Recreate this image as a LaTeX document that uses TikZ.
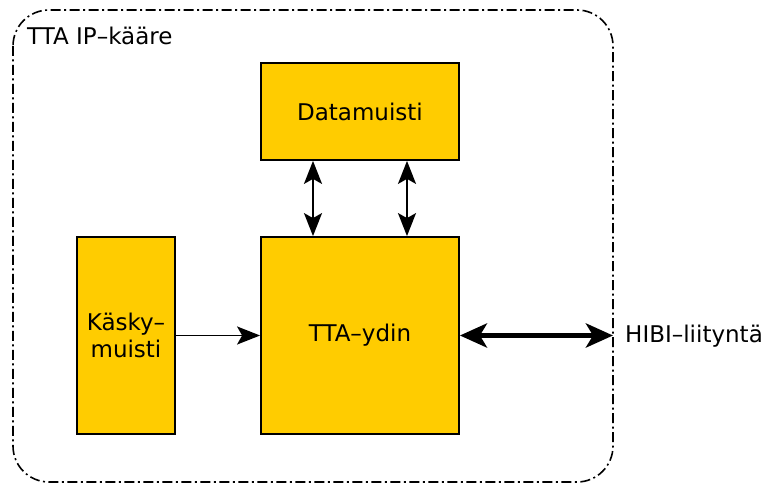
\documentclass[tikz,border=0pt]{standalone}
\usepackage{fontspec}
\setmainfont{DejaVu Sans}
\usetikzlibrary{arrows.meta}
\definecolor{blockfill}{RGB}{255,204,0}
\begin{document}
\begin{tikzpicture}[x=1pt,y=-1pt,
  txt/.style={font=\fontsize{23}{27}\selectfont},
  block/.style={txt,draw=black,line width=1.8pt,fill=blockfill,inner sep=0pt,align=center},
  link/.style={line width=1.8pt,-{Stealth[length=23pt,width=18pt,inset=5pt]}},
  dlink/.style={line width=1.8pt,{Stealth[length=23pt,width=18pt,inset=5pt]}-{Stealth[length=23pt,width=18pt,inset=5pt]}},
  bus/.style={line width=5.5pt,{Stealth[length=27pt,width=24pt,inset=7pt]}-{Stealth[length=27pt,width=24pt,inset=7pt]}},
  lbl/.style={txt,inner sep=0pt}]
\useasboundingbox (0,0) rectangle (764,486);
% wrapper boundary
\draw[line width=1.6pt,dash pattern=on 10pt off 3.5pt on 2pt off 3.5pt,rounded corners=36pt]
  (13,10) rectangle (613,482);
\node[lbl,anchor=west] (wrap) at (27,36) {TTA IP–kääre};
% blocks
\node[block,minimum width=198pt,minimum height=97pt] (dmem) at (360,111.5) {Datamuisti};
\node[block,minimum width=198pt,minimum height=197pt] (core) at (360,335.5) {TTA–ydin};
\node[block,minimum width=98pt,minimum height=197pt] (imem) at (126,335.5) {Käsky–\\muisti};
% interface point on the wrapper edge
\coordinate (hibi) at (613,335.5);
\node[lbl,anchor=west] (hibilbl) at (625,336) {HIBI–liityntä};
% connections
\draw[dlink] ([xshift=-47pt]dmem.south) -- ([xshift=-47pt]core.north);
\draw[dlink] ([xshift=47pt]dmem.south) -- ([xshift=47pt]core.north);
\draw[link] (imem.east) -- (core.west);
\draw[bus] (core.east) -- (hibi);
\end{tikzpicture}
\end{document}
